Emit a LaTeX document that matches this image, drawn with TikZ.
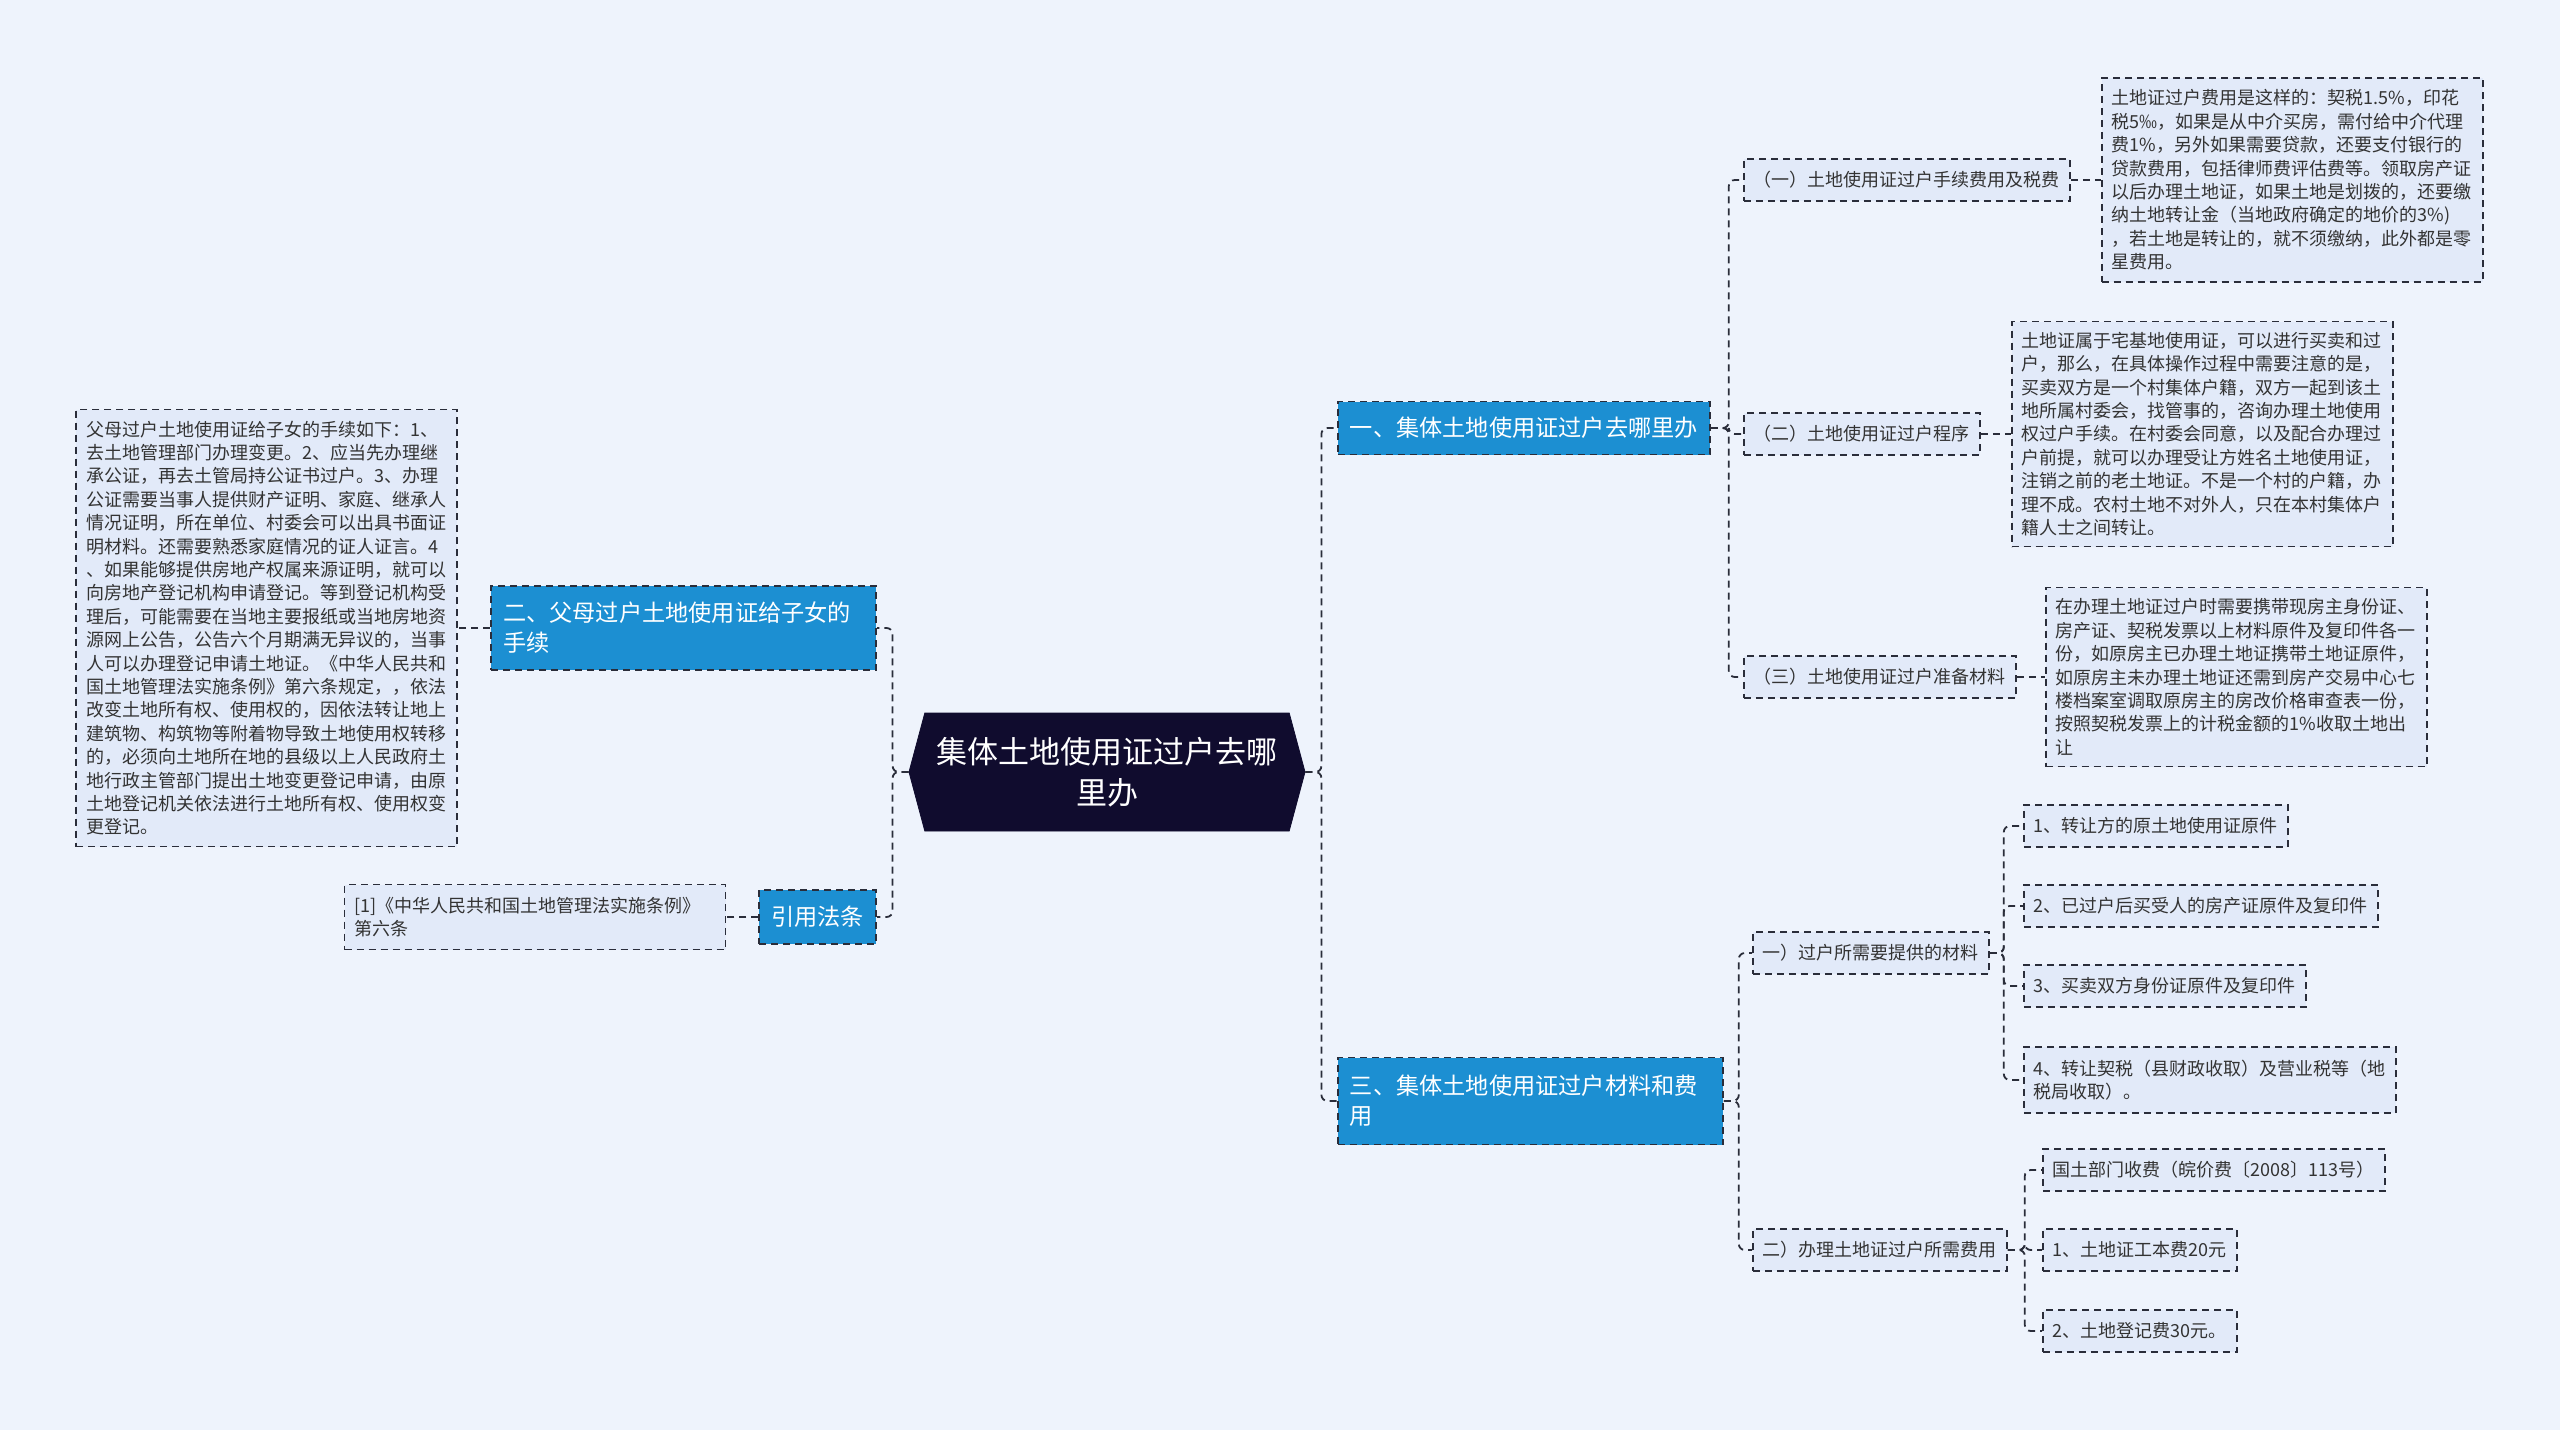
\documentclass[tikz,border=0pt]{standalone}
\usepackage{fontspec}
\setmainfont{Noto Sans CJK SC}
\usepackage{tikz}
\usetikzlibrary{positioning,shapes.symbols}
\definecolor{pagebg}{HTML}{EEF3FC}
\definecolor{ink}{HTML}{333333}
\definecolor{edge}{HTML}{2A2D3A}
\definecolor{rootnavy}{HTML}{100C2E}
\definecolor{branchblue}{HTML}{1C8FD2}
\definecolor{leafsoft}{HTML}{E2EAF9}
\tikzset{
  dashline/.style={draw=edge,line width=0.9pt,dash pattern=on 3.5pt off 2.5pt},
  rootbox/.style={signal,signal to=west and east,signal pointer angle=150,
    fill=rootnavy,draw=rootnavy,text=white,align=center,
    font=\fontsize{15.5}{20.4}\selectfont,minimum width=198pt,minimum height=59pt,inner sep=2pt},
  branchbox/.style={rectangle,dashline,fill=branchblue,text=white,align=left,
    font=\fontsize{11.6}{15}\selectfont,inner xsep=6pt,inner ysep=3pt},
  leafbox/.style={rectangle,dashline,fill=leafsoft,text=ink,align=left,
    font=\fontsize{9}{11.7}\selectfont,inner xsep=5pt,inner ysep=3pt,minimum height=21pt},
  notebox/.style={leafbox,text width=180.5pt},
  link/.style={dashline,rounded corners=3pt},
}
\begin{document}
\begin{tikzpicture}[x=0.5pt,y=-0.5pt]
  \fill[pagebg] (0,0) rectangle (2560,1430);
  \useasboundingbox (0,0) rectangle (2560,1430);
  % centre
  \node[rootbox] (root) at (1107,772) {集体土地使用证过户去哪\\里办};
  % main branches
  \node[branchbox,anchor=west,minimum height=26.5pt] (wherego) at (1337,428) {一、集体土地使用证过户去哪里办};
  \node[branchbox,anchor=west,text width=180.5pt,minimum height=43.5pt] (costs) at (1337,1101) {三、集体土地使用证过户材料和费\\用};
  \node[branchbox,anchor=east,text width=180.5pt,minimum height=42pt] (parents) at (877,628) {二、父母过户土地使用证给子女的\\手续};
  \node[branchbox,anchor=east,minimum height=27pt] (cite) at (877,917) {引用法条};
  % where to go
  \node[leafbox,anchor=west] (taxfee) at (1743,180) {（一）土地使用证过户手续费用及税费};
  \node[notebox,right=15pt of taxfee,minimum height=102pt] (taxtxt) {土地证过户费用是这样的：契税1.5\%，印花\\税5‰，如果是从中介买房，需付给中介代理\\费1\%，另外如果需要贷款，还要支付银行的\\贷款费用，包括律师费评估费等。领取房产证\\以后办理土地证，如果土地是划拨的，还要缴\\纳土地转让金（当地政府确定的地价的3\%)\\，若土地是转让的，就不须缴纳，此外都是零\\星费用。};
  \node[leafbox,anchor=west] (proc) at (1743,434) {（二）土地使用证过户程序};
  \node[notebox,right=15pt of proc,minimum height=112.5pt] (proctxt) {土地证属于宅基地使用证，可以进行买卖和过\\户，那么，在具体操作过程中需要注意的是，\\买卖双方是一个村集体户籍，双方一起到该土\\地所属村委会，找管事的，咨询办理土地使用\\权过户手续。在村委会同意，以及配合办理过\\户前提，就可以办理受让方姓名土地使用证，\\注销之前的老土地证。不是一个村的户籍，办\\理不成。农村土地不对外人，只在本村集体户\\籍人士之间转让。};
  \node[leafbox,anchor=west] (prep) at (1743,677) {（三）土地使用证过户准备材料};
  \node[notebox,right=14pt of prep,minimum height=89.5pt] (preptxt) {在办理土地证过户时需要携带现房主身份证、\\房产证、契税发票以上材料原件及复印件各一\\份，如原房主已办理土地证携带土地证原件，\\如原房主未办理土地证还需到房产交易中心七\\楼档案室调取原房主的房改价格审查表一份，\\按照契税发票上的计税金额的1\%收取土地出\\让};
  % materials and costs
  \node[leafbox,anchor=west] (needs) at (1752,953) {一）过户所需要提供的材料};
  \node[leafbox,anchor=west] (need1) at (2023,826) {1、转让方的原土地使用证原件};
  \node[leafbox,anchor=west] (need2) at (2023,906) {2、已过户后买受人的房产证原件及复印件};
  \node[leafbox,anchor=west] (need3) at (2023,986) {3、买卖双方身份证原件及复印件};
  \node[leafbox,anchor=west,minimum height=33pt] (need4) at (2023,1080) {4、转让契税（县财政收取）及营业税等（地\\税局收取）。};
  \node[leafbox,anchor=west] (fees) at (1752,1250) {二）办理土地证过户所需费用};
  \node[leafbox,anchor=west] (fee0) at (2042,1170) {国土部门收费（皖价费〔2008〕113号）};
  \node[leafbox,anchor=west] (fee1) at (2042,1250) {1、土地证工本费20元};
  \node[leafbox,anchor=west] (fee2) at (2042,1331) {2、土地登记费30元。};
  % left side
  \node[notebox,left=16pt of parents,minimum height=218.5pt] (parenttxt) {父母过户土地使用证给子女的手续如下：1、\\去土地管理部门办理变更。2、应当先办理继\\承公证，再去土管局持公证书过户。3、办理\\公证需要当事人提供财产证明、家庭、继承人\\情况证明，所在单位、村委会可以出具书面证\\明材料。还需要熟悉家庭情况的证人证言。4\\、如果能够提供房地产权属来源证明，就可以\\向房地产登记机构申请登记。等到登记机构受\\理后，可能需要在当地主要报纸或当地房地资\\源网上公告，公告六个月期满无异议的，当事\\人可以办理登记申请土地证。《中华人民共和\\国土地管理法实施条例》第六条规定，，依法\\改变土地所有权、使用权的，因依法转让地上\\建筑物、构筑物等附着物导致土地使用权转移\\的，必须向土地所在地的县级以上人民政府土\\地行政主管部门提出土地变更登记申请，由原\\土地登记机关依法进行土地所有权、使用权变\\更登记。};
  \node[notebox,left=16pt of cite,minimum height=32.5pt] (citetxt) {[1]《中华人民共和国土地管理法实施条例》\\第六条};
  % connectors
  \foreach \n in {wherego,costs}
    \draw[link] (root.east) -- ++(16,0) |- (\n.west);
  \foreach \n in {parents,cite}
    \draw[link] (root.west) -- ++(-16,0) |- (\n.east);
  \foreach \n in {taxfee,proc,prep}
    \draw[link] (wherego.east) -- ++(18,0) |- (\n.west);
  \draw[link] (taxfee.east) -- (taxtxt.west);
  \draw[link] (proc.east) -- (proctxt.west);
  \draw[link] (prep.east) -- (preptxt.west);
  \foreach \n in {needs,fees}
    \draw[link] (costs.east) -- ++(15,0) |- (\n.west);
  \foreach \n in {need1,need2,need3,need4}
    \draw[link] (needs.east) -- ++(14,0) |- (\n.west);
  \foreach \n in {fee0,fee1,fee2}
    \draw[link] (fees.east) -- ++(17,0) |- (\n.west);
  \draw[link] (parents.west) -- (parenttxt.east);
  \draw[link] (cite.west) -- (citetxt.east);
\end{tikzpicture}
\end{document}
